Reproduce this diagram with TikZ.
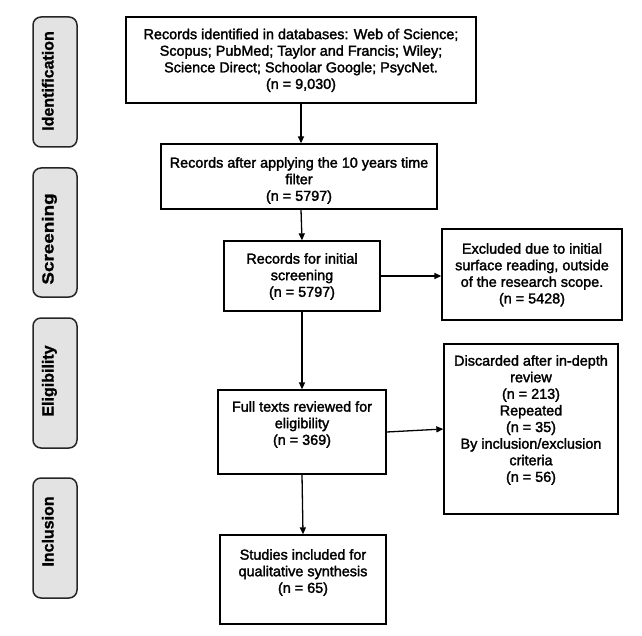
\documentclass[tikz,border=0pt]{standalone}
\usepackage{fontspec}
\setmainfont{Liberation Sans}
\newfontfamily\boxfont{Liberation Sans}[FakeBold=2]
\newfontfamily\stagefont{Liberation Sans Bold}[FakeBold=1.2]
\usetikzlibrary{arrows.meta}
\begin{document}
\begin{tikzpicture}[x=1pt,y=-1pt,
  box/.style={draw=black, line width=1.3pt, rectangle, inner sep=0pt},
  txt/.style={anchor=north, align=center, inner sep=0pt, font=\boxfont\fontsize{14.4}{16.6}\selectfont},
  stage/.style={draw=black!85, line width=1.5pt, rounded corners=8pt, fill=black!11, inner sep=0pt, minimum width=44pt},
  stagetxt/.style={rotate=90, anchor=base, inner sep=0pt, font=\stagefont\fontsize{16}{18}\selectfont},
  arr/.style={line width=1.3pt, -{Triangle[length=7pt,width=6pt]}}]
\useasboundingbox (0,0) rectangle (642,636);
% stage labels
\node[stage, minimum height=130pt] (s1) at (55,82) {};
\node[stage, minimum height=129pt] (s2) at (55,232.5) {};
\node[stage, minimum height=130pt] (s3) at (55,383) {};
\node[stage, minimum height=120pt] (s4) at (55,538) {};
\node[stagetxt] (l1) at (53.5,81) {Identification};
\node[stagetxt] (l2) at (53.5,239) {\scalebox{1.18}[1]{Screening}};
\node[stagetxt] (l3) at (53.5,381) {Eligibility};
\node[stagetxt] (l4) at (53.5,531.5) {Inclusion};
% boxes
\node[box, minimum width=350pt, minimum height=86pt] (b1) at (301,60) {};
\node[box, minimum width=276pt, minimum height=65pt] (b2) at (299,176.5) {};
\node[box, minimum width=156pt, minimum height=70pt] (b3) at (302,276) {};
\node[box, minimum width=180pt, minimum height=91pt] (e1) at (532,274.5) {};
\node[box, minimum width=168pt, minimum height=84pt] (b4) at (302,432) {};
\node[box, minimum width=174pt, minimum height=170pt] (e2) at (531,429) {};
\node[box, minimum width=166pt, minimum height=89pt] (b5) at (303,579.5) {};
% texts
\node[txt] (t1) at (301,28.5) {Records identified in databases: Web of Science;\\Scopus; PubMed; Taylor and Francis; Wiley;\\Science Direct; Schoolar Google; PsycNet.\\(n = 9,030)};
\node[txt] (t2) at (299,157) {Records after applying the 10 years time\\filter\\(n = 5797)};
\node[txt] (t3) at (302,253) {Records for initial\\screening\\(n = 5797)};
\node[txt] (t4) at (532,243) {Excluded due to initial\\surface reading, outside\\of the research scope.\\(n = 5428)};
\node[txt] (t5) at (302,401) {Full texts reviewed for\\eligibility\\(n = 369)};
\node[txt] (t6) at (531,355) {Discarded after in-depth\\review\\(n = 213)\\Repeated\\(n = 35)\\By inclusion/exclusion\\criteria\\(n = 56)};
\node[txt] (t7) at (303,549) {Studies included for\\qualitative synthesis\\(n = 65)};
% arrows
\draw[arr] (b1.south) -- (b1.south |- b2.north);
\draw[arr] (b2.south -| b1.south) -- (b3.north);
\draw[arr] (b3.south) -- (b4.north);
\draw[arr] (b4.south) -- (b5.north);
\draw[arr] (b3.east) -- (b3.east -| e1.west);
\draw[arr] (b4.east) -- (e2.west);
\end{tikzpicture}
\end{document}
